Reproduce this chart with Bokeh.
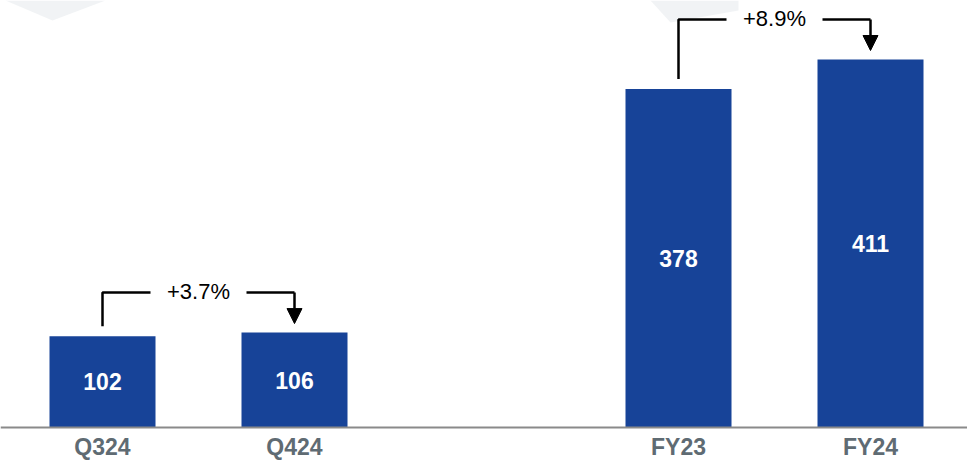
from bokeh.plotting import figure
from bokeh.models import Range1d, Span, Arrow, NormalHead, ColumnDataSource
from bokeh.core.properties import value
from bokeh.embed import file_html
from bokeh.resources import INLINE

# ---- data ----
categories = ["Q324", "Q424", "FY23", "FY24"]
positions = [0, 1, 3, 4]
values = [102, 106, 378, 411]
growth_pairs = [(0, 1), (2, 3)]
growth_labels = ["+3.7%", "+8.9%"]

# ---- styling ----
BAR_COLOR = "#174398"
CAT_COLOR = "#5f6b73"
W, H = 967, 460
px_per_unit_x = 192.0
x0_px = 102.0
base_px = 427.0
px_per_unit_y = 368.0 / 411.0

def px_y(n):
    return n / px_per_unit_y

def px_x(n):
    return n / px_per_unit_x

p = figure(width=W, height=H, output_backend="svg", toolbar_location=None,
           x_range=Range1d(-x0_px / px_per_unit_x, (W - x0_px) / px_per_unit_x),
           y_range=Range1d(-(H - base_px) / px_per_unit_y, base_px / px_per_unit_y),
           min_border=0, min_border_left=0, min_border_right=0,
           min_border_top=0, min_border_bottom=0)
p.axis.visible = False
p.grid.visible = False
p.outline_line_color = None
p.background_fill_color = "white"
p.border_fill_color = "white"

# faint background watermark shapes (decorative)
top = base_px / px_per_unit_y
p.patches(xs=[[px_x(-102), px_x(-97), px_x(-50), px_x(3), px_x(68)],
              [px_x(488), px_x(548), px_x(568), px_x(636), px_x(636)]],
          ys=[[top, top, top - px_y(20), top, top],
              [top, top, top - px_y(22), top - px_y(10), top]],
          fill_color="#eef0f3", line_color=None, fill_alpha=0.8)

src = ColumnDataSource(dict(x=positions, top=values, cat=categories,
                            lab=[str(v) for v in values],
                            mid=[v / 2 for v in values]))

p.vbar(x="x", top="top", bottom=0, width=106 / px_per_unit_x, source=src,
       fill_color=BAR_COLOR, line_color=None)

# baseline
p.add_layout(Span(location=0, dimension="width", line_color="#8a8a8a", line_width=2))

# value labels
p.text(x="x", y="mid", text="lab", source=src, text_color="white",
       text_font=value("Liberation Sans"), text_font_style="bold",
       text_font_size="23px", text_align="center", text_baseline="middle")

# category labels
p.text(x="x", y=-px_y(19), text="cat", source=src, text_color=CAT_COLOR,
       text_font=value("Liberation Sans"), text_font_style="bold",
       text_font_size="23px", text_align="center", text_baseline="middle")

# growth brackets
for (i, j), lab in zip(growth_pairs, growth_labels):
    xa, xb = positions[i], positions[j]
    va, vb = values[i], values[j]
    yb = max(va, vb) + px_y(40)
    xm = (xa + xb) / 2
    gap = px_x(48)
    p.line(x=[xa, xa, xm - gap], y=[va + px_y(10), yb, yb],
           line_color="black", line_width=2.5)
    p.line(x=[xm + gap, xb], y=[yb, yb], line_color="black", line_width=2.5)
    p.add_layout(Arrow(x_start=xb, y_start=yb, x_end=xb, y_end=vb + px_y(9),
                       line_color="black", line_width=2.5,
                       end=NormalHead(size=15, fill_color="black", line_color="black")))
    p.text(x=[xm], y=[yb + px_y(1)], text=[lab], text_color="black",
           text_font=value("Liberation Sans"), text_font_size="22px",
           text_align="center", text_baseline="middle")

open("out.html", "w").write(file_html(p, INLINE))
